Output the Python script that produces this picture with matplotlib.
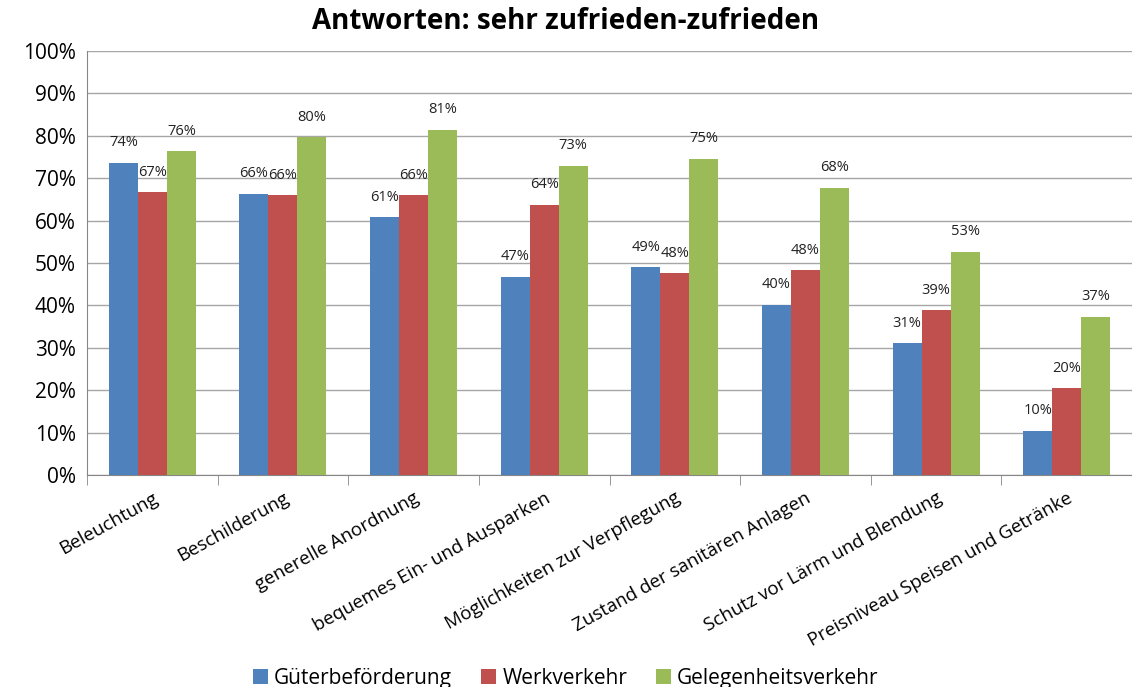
import matplotlib
matplotlib.use("Agg")
import matplotlib.pyplot as plt
import numpy as np

categories = [
    "Beleuchtung",
    "Beschilderung",
    "generelle Anordnung",
    "bequemes Ein- und Ausparken",
    "Möglichkeiten zur Verpflegung",
    "Zustand der sanitären Anlagen",
    "Schutz vor Lärm und Blendung",
    "Preisniveau Speisen und Getränke",
]
gueter = [73.6, 66.3, 60.8, 46.7, 49.0, 40.1, 31.1, 10.4]
werk = [66.7, 66.0, 66.0, 63.7, 47.6, 48.3, 38.9, 20.5]
gelegen = [76.4, 79.7, 81.4, 72.9, 74.6, 67.7, 52.6, 37.3]
series_names = ["Güterbeförderung", "Werkverkehr", "Gelegenheitsverkehr"]
colors = ["#4f81bd", "#c0504d", "#9bbb59"]

plt.rcParams["font.family"] = ["Open Sans", "DejaVu Sans"]

fig = plt.figure(figsize=(11.32, 6.87), dpi=100)
ax = fig.add_axes([0.0769, 0.3086, 0.9231, 0.6172])

x = np.arange(len(categories))
w = 0.222
for i, vals in enumerate([gueter, werk, gelegen]):
    pos = x + (i - 1) * w
    ax.bar(pos, vals, width=w, color=colors[i], label=series_names[i], zorder=3)
    for p, v in zip(pos, vals):
        ax.annotate(f"{round(v):d}%", (p, v), xytext=(0, 9), textcoords="offset points",
                    ha="center", va="bottom", fontsize=10.5, color="#222222")

ax.set_xlim(-0.5, len(categories) - 0.5)
ax.set_ylim(0, 100)
ax.set_yticks(range(0, 101, 10))
ax.set_yticklabels([f"{t}%" for t in range(0, 101, 10)], fontsize=15)
ax.yaxis.grid(True, color="#a6a6a6", linewidth=1, zorder=0)
ax.tick_params(axis="y", length=0, pad=8)

ax.set_xticks(x)
ax.set_xticklabels(categories, rotation=29, ha="right", rotation_mode="anchor", fontsize=13.5)
ax.tick_params(axis="x", which="major", length=0, pad=10)
ax.set_xticks(np.arange(-0.5, len(categories), 1), minor=True)
ax.tick_params(axis="x", which="minor", length=7, color="#868686")

for s in ["top", "right"]:
    ax.spines[s].set_visible(False)
ax.spines["left"].set_color("#868686")
ax.spines["bottom"].set_color("#868686")

fig.suptitle("Antworten: sehr zufrieden-zufrieden", fontsize=20, fontweight="bold", y=0.99)

fig.legend(loc="lower center", ncol=3, frameon=False, fontsize=15,
           bbox_to_anchor=(0.5, -0.03), handlelength=0.7, handleheight=0.7,
           handletextpad=0.3, columnspacing=1.4)

fig.savefig("out.png", dpi=100)
